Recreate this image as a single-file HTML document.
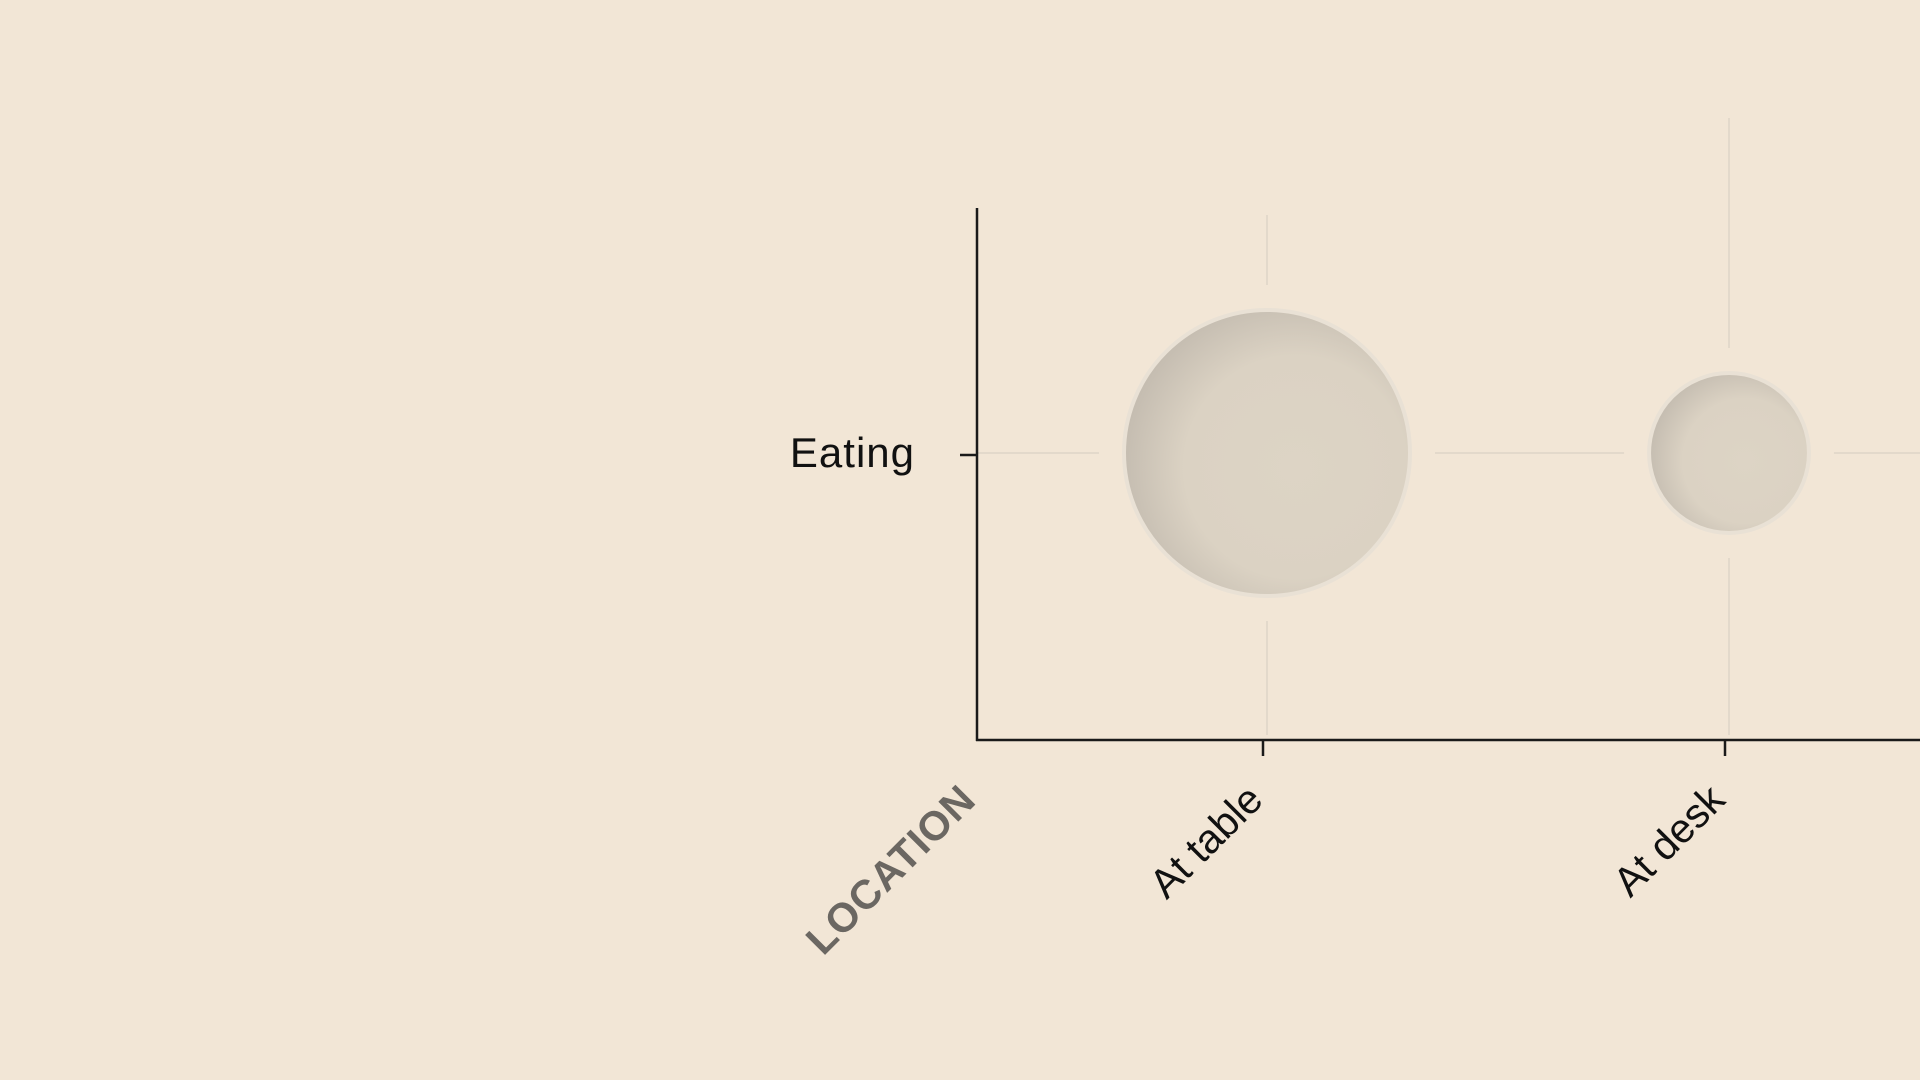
<!DOCTYPE html>
<html><head><meta charset="utf-8">
<style>
html,body{margin:0;padding:0;background:#f2e6d6;width:1920px;height:1080px;overflow:hidden}
svg{display:block}
text{font-family:"Liberation Sans","DejaVu Sans",sans-serif}
</style></head>
<body>
<svg id="chart" width="1920" height="1080" viewBox="0 0 1920 1080">
<defs>
<radialGradient id="bub" cx="0.6" cy="0.55" r="0.6">
<stop offset="0" stop-color="#ddd4c5"/>
<stop offset="0.65" stop-color="#dbd2c3"/>
<stop offset="1" stop-color="#c5bdb1"/>
</radialGradient>
</defs>
<g id="grid"></g>
<g id="marks"></g>
<g id="axes"></g>
</svg>
<script>
const categories = ["At table", "At desk"];
const rows = ["Eating"];
const values = [64, 20];
const rowIndex = [0, 0];

const NS = "http://www.w3.org/2000/svg";
const axisX = 977, axisTop = 208, axisY = 740;
function xPos(i){ return 1267 + i*462; }
function yPos(j){ return 453 + j*200; }
function rScale(v){ return 143*Math.sqrt(v/64); }
function mk(tag, attrs, parent){
  const e = document.createElementNS(NS, tag);
  for (const k in attrs) e.setAttribute(k, attrs[k]);
  parent.appendChild(e); return e;
}
const grid = document.getElementById('grid');
const marks = document.getElementById('marks');
const axes = document.getElementById('axes');

rows.forEach((r, j) => {
  const l = mk('line', {x1: axisX, x2: 1920, y1: yPos(j), y2: yPos(j), stroke: '#e3d9cb', 'stroke-width': 2}, grid);
  
  
});
categories.forEach((c, i) => {
  const l = mk('line', {x1: xPos(i), x2: xPos(i), y1: i === 0 ? 215 : 118, y2: axisY - 5, stroke: '#e3d9cb', 'stroke-width': 2}, grid);
  
  
});
values.forEach((v, i) => {
  const r = rScale(v);
  const cx = xPos(i), cy = yPos(rowIndex[i]);
  const halo = mk('circle', {cx, cy, r: r + 25, fill: '#f2e6d6'}, marks);
  
  
  const c = mk('circle', {cx, cy, r, fill: 'url(#bub)', stroke: '#e9e1d5', 'stroke-width': 4}, marks);
  
  
});
const ya = mk('line', {x1: axisX, x2: axisX, y1: axisTop, y2: axisY + 1, stroke: '#1a1a1a', 'stroke-width': 2.5}, axes);


const xa = mk('line', {x1: axisX - 1, x2: 1920, y1: axisY, y2: axisY, stroke: '#1a1a1a', 'stroke-width': 2.5}, axes);


rows.forEach((r, j) => {
  const t = mk('line', {x1: 960, x2: axisX, y1: yPos(j) + 2, y2: yPos(j) + 2, stroke: '#1a1a1a', 'stroke-width': 2.5}, axes);
  
  
  const tx = mk('text', {x: 915, y: yPos(j) + 14, 'text-anchor': 'end', 'font-size': 42, fill: '#111', 'letter-spacing': 1}, axes);
  tx.textContent = r;
  
  
});
categories.forEach((c, i) => {
  const x = xPos(i) - 4;
  const t = mk('line', {x1: x, x2: x, y1: axisY, y2: axisY + 16, stroke: '#1a1a1a', 'stroke-width': 2.5}, axes);
  
  
  const ax = x + 2, ay = axisY + 62;
  const tx = mk('text', {x: ax, y: ay, 'text-anchor': 'end', 'font-size': 41, fill: '#111', transform: `rotate(-45 ${ax} ${ay})`}, axes);
  tx.textContent = c;
  
  
});
const title = mk('text', {x: 978, y: 802, 'text-anchor': 'end', 'font-size': 41, 'font-weight': 'bold', fill: '#6b6762', transform: 'rotate(-45 978 802)', 'letter-spacing': 1}, axes);
title.textContent = 'LOCATION';


</script>
</body></html>
